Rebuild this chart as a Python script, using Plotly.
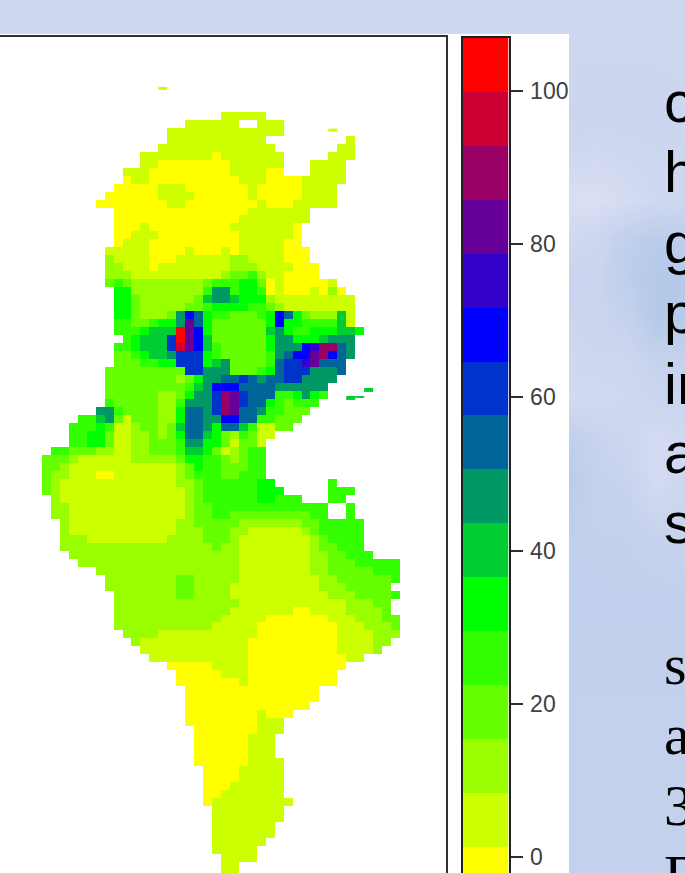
import plotly.graph_objects as go

# band edges of the key, in data units, and its colours (low to high)
band_edges = [-5.7, 1.3, 8.3, 15.4, 22.4, 29.5, 36.5, 43.5, 50.6, 57.6, 64.7, 71.7, 78.7, 85.8, 92.8, 99.9, 106.9]
band_colors = ["#ffff00", "#ccff00", "#99ff00", "#66ff00", "#33ff00", "#00ff00", "#00cc33", "#009966",
               "#006699", "#0033cc", "#0000ff", "#3300cc", "#660099", "#990066", "#cc0033", "#ff0000"]
key_ticks = [0, 20, 40, 60, 80, 100]

# map cells: one hex digit per cell = band number, "." = no data
map_rows = [
 "",
 "",
 "",
 ".......... .......... 11111.....",
 ".......... ......1111 11..111...",
 ".......... ....111111 1111111...",
 ".......... ....111111 11111..... ....1.....",
 ".......... ...1111111 111111.... ...11.....",
 ".......... .111111110 1111111... ..111.....",
 ".......... .110000000 0111111... 1111......",
 ".........1 1100000000 0111100... 1111......",
 ".........0 1100000000 0011100001 1111......",
 "........00 0001110000 0001000001 111.......",
 ".......000 0001111000 0001000001 111.......",
 "......0000 0000110000 0000100011 111.......",
 "........00 0000000000 0001111111",
 "........00 0000000000 0011111111",
 "........00 0100000000 011111110.",
 "........00 1110000000 001111110.",
 "........01 1100000000 001111100.",
 ".......111 1100001000 1011111000",
 ".......211 1100011111 1221111000",
 ".......221 1101111111 1222111100 0.........",
 ".......222 1111111111 2334211000 0.........",
 ".......343 2222222234 4455301000 001.......",
 "........55 2222222247 7455401000 1020......",
 "........55 3222222367 7655521111 11111.....",
 "........55 3222223345 5554432111 11111.....",
 "........55 322237a854 433345a853 22261.....",
 "........44 334557c853 333335a554 44461.....",
 "........44 45666fca53 3333367544 555665....",
 ".........4 56669fca63 3333357755 56777.....",
 "........44 56669eca64 333335777a bdd87.....",
 "........33 4566799954 33333478aa cda87.....",
 "........33 3445599956 733334899b c888......",
 ".......333 3333339977 7333458999 7778......",
 ".......333 3333323577 8898788997 777.......",
 ".......333 333333467a aa88887777 77........",
 ".......333 3332235779 dc98884457 54........",
 ".......433 3332247779 dc98854344 4.........",
 "......7743 3332258879 dc88744333",
 "....446731 3332258877 aa8844333.",
 "...4445411 2332368875 88641133..",
 "...4455311 2232358865 324311....",
 "...4455311 2233347755 31331.....",
 ".443332211 2233346653 12344.....",
 "3332111111 2222235544 32344.....",
 "3321111111 1111123544 33344.....",
 "3221110011 1111123444 33444.....",
 "3211111111 1111122344 444455.... ..4.......",
 "3211111111 1111112344 4444555... ..444.....",
 ".211111111 1111112344 444455444. ..44......",
 ".221111111 1111112334 4444444444 44..4.....",
 ".221111111 1111112334 4333333333 44..4.....",
 "..21111111 1111122333 3322222223 344444....",
 "..21111111 1111122233 3221111112 344444....",
 "..22211111 1111222233 3211111111 234444....",
 "..22222222 2222222223 2211111111 233444....",
 "...2222222 2222222222 2211111111 2233444...",
 "....222222 2222222222 2211111111 2233344444",
 "......2222 2222222222 2211111111 2233333444",
 ".......222 2222233222 2211111111 1223333334",
 ".......222 2222233222 2111111111 122233333.",
 "........22 2222233222 2111111111 1122233334",
 "........22 2222222222 2211111111 111122233.",
 "........22 2222222222 2111111100 111122223.",
 "........22 2222222222 1111100000 0011122233",
 "........22 2222222221 1111000000 0001112223",
 ".........2 2221111111 1111000000 0001111222",
 ".......... 2111111111 1110000000 000111122.",
 ".......... .111111111 1110000000 00011112..",
 ".......... ..11111111 1110000000 000011....",
 ".......... ....000001 1110000000 0000......",
 ".......... .....00000 1110000000 000.......",
 ".......... .....00000 0010000000 000.......",
 ".......... ......0000 0000000000 0.........",
 ".......... ......0000 0000000000 0.........",
 ".......... ......0000 0000000000",
 ".......... ......0000 00001000..",
 ".......... ......0000 0000111...",
 ".......... .......000 0000111...",
 ".......... .......000 000111....",
 ".......... .......000 000111....",
 ".......... .......000 000111....",
 ".......... .......000 0001111...",
 ".......... ........00 0011111...",
 ".......... ........00 0011111...",
 ".......... ........00 0111111...",
 ".......... ........00 1111111...",
 ".......... ........01 11111111..",
 ".......... .........1 1111111...",
 ".......... .........1 1111111...",
 ".......... .........1 111111....",
 ".......... .........1 111111....",
 ".......... .........1 11111.....",
 ".......... .........1 1111......",
 ".......... .......... 1111......",
 ".......... .......... 11........",
 ".......... .......... 11........",
 ".......... .......... 11........",
 ".......... .......... 11........",
]

# thin slivers (islets) that are shorter than one map row:
# band, first and last column, top and bottom in row units
slivers = [
 (1, 13, 13, -0.62, -0.25),
 (1, 32, 32, 4.62, 5.0),
 (6, 36, 36, 37.1, 37.6),
 (6, 34, 34, 38.1, 38.6),
 (6, 35, 35, 38.1, 38.35),
]

# backdrop brightness (0 = deep blue, 1 = pale), sampled on a coarse grid
bg_x = [0, 569, 598, 627, 656, 685]
bg_y = [0, 60, 120, 160, 200, 240, 280, 320, 360, 400, 440, 480, 540, 600, 700, 900]
bg_t = [
 [.55, .55, .55, .55, .55, .55],
 [.55, .55, .55, .55, .55, .55],
 [.55, .50, .50, .50, .50, .55],
 [.55, .60, .65, .60, .55, .55],
 [.70, .80, .80, .70, .60, .55],
 [.50, .60, .55, .30, .20, .25],
 [.50, .45, .50, .25, .10, .10],
 [.50, .50, .50, .40, .10, .15],
 [.50, .60, .55, .55, .40, .40],
 [.50, .65, .65, .60, .50, .50],
 [.50, .30, .45, .55, .70, .60],
 [.50, .20, .40, .45, .70, .55],
 [.50, .30, .35, .35, .40, .45],
 [.35, .32, .32, .32, .32, .32],
 [.35, .35, .35, .35, .35, .35],
 [.35, .35, .35, .35, .35, .35],
]

# clipped slide text on the right: (text, baseline)
sans_words = [("c", 118), ("h", 188), ("g", 259), ("p", 329), ("in", 400), ("a", 470), ("s", 540)]
serif_words = [("s", 682), ("a", 752), ("3", 823), ("F", 893)]

# the page is cut by the 873-px window; the lower frame lines lie below it
W, H = 685, 900
n_bands = len(band_colors)
mids = [(band_edges[k] + band_edges[k + 1]) / 2 for k in range(n_bands)]
scale = []
for k, c in enumerate(band_colors):
    scale += [[k / n_bands, c], [(k + 1) / n_bands, c]]


def decode(row):
    s = row.replace(" ", "").ljust(40, ".")[:40]
    return [None if ch == "." else mids[int(ch, 16)] for ch in s]


z_map = [decode(r) for r in map_rows]

fig = go.Figure()
fig.add_trace(go.Heatmap(x=bg_x, y=bg_y, z=bg_t, zmin=0, zmax=1, zsmooth="best", showscale=False, hoverinfo="skip",
                         colorscale=[[0, "rgb(175,198,232)"], [.5, "rgb(203,213,238)"], [1, "rgb(226,229,247)"]],
                         xaxis="x", yaxis="y"))
fig.add_trace(go.Heatmap(x=[0, 569], y=[34, 900], z=[[1]], showscale=False, hoverinfo="skip",
                         colorscale=[[0, "#ffffff"], [1, "#ffffff"]], xaxis="x", yaxis="y"))
fig.add_trace(go.Heatmap(z=z_map, zmin=band_edges[0], zmax=band_edges[-1], colorscale=scale, showscale=False,
                         hoverongaps=False, xaxis="x2", yaxis="y2"))
for band, c0, c1, r0, r1 in slivers:
    fig.add_trace(go.Heatmap(x=[c0 - .5, c1 + .5], y=[r0, r1], z=[[mids[band]]], zmin=band_edges[0],
                             zmax=band_edges[-1], colorscale=scale, showscale=False, xaxis="x2", yaxis="y2"))
fig.add_trace(go.Heatmap(x=[0, 1], y=band_edges, z=[[m] for m in mids], zmin=band_edges[0], zmax=band_edges[-1],
                         colorscale=scale, showscale=False, xaxis="x3", yaxis="y3"))

frame = "#303030"
fig.update_layout(
    width=W, height=H, margin=dict(l=0, r=0, t=0, b=0), autosize=False,
    paper_bgcolor="#ccd6ee", plot_bgcolor="rgba(0,0,0,0)", showlegend=False,
    xaxis=dict(domain=[0, 1], range=[0, W], visible=False, fixedrange=True),
    yaxis=dict(domain=[0, 1], range=[H, 0], visible=False, fixedrange=True),
    xaxis2=dict(domain=[0, 446 / W], range=[-5.193, 44.65], side="top", anchor="y2", showline=True, linecolor=frame,
                linewidth=2, showgrid=False, zeroline=False, showticklabels=False, ticks=""),
    yaxis2=dict(domain=[0, 1 - 37 / H], range=[(H - 92) / 8, -6.875], side="right", anchor="x2", showline=True,
                linecolor=frame, linewidth=2, showgrid=False, zeroline=False, showticklabels=False, ticks=""),
    xaxis3=dict(domain=[462.5 / W, 508.5 / W], range=[0, 1], side="top", anchor="y3", showline=True,
                linecolor="#202020", linewidth=2, mirror=True, showgrid=False, zeroline=False,
                showticklabels=False, ticks=""),
    yaxis3=dict(domain=[0, 1 - 38 / H], range=[(859 - H) / 7.67, 106.9], side="right", anchor="x3", showline=True,
                linecolor="#202020", linewidth=2, mirror=True, showgrid=False, zeroline=False,
                tickmode="array", tickvals=key_ticks, ticks="outside", ticklen=12, tickwidth=2, tickcolor="#303030",
                ticklabelstandoff=3,
                tickfont=dict(family="Liberation Sans", size=23, color="#404040")),
)


def add_words(words, family):
    for txt, base in words:
        fig.add_annotation(text=txt, xref="paper", yref="paper", x=663 / W, y=1 - (base - 16) / H, xanchor="left",
                           yanchor="middle", showarrow=False, borderpad=0,
                           font=dict(family=family, size=58, color="#000000"))


add_words(sans_words, "Liberation Sans")
add_words(serif_words, "Liberation Serif")

fig.write_html("out.html", config=dict(displayModeBar=False),
               post_script="document.body.style.margin='0';document.documentElement.style.overflow='hidden';")
